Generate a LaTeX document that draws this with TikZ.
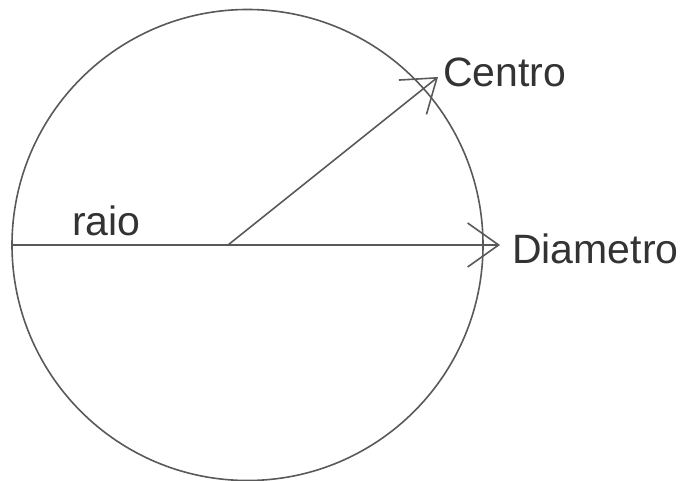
\documentclass[tikz,border=0pt]{standalone}
\usepackage{fontspec}
\setmainfont{Liberation Sans}
\usetikzlibrary{arrows.meta}
\begin{document}
\begin{tikzpicture}[x=1pt,y=-1pt,
  ln/.style={draw=black!65,line width=1.6pt},
  arr/.style={ln,-{Straight Barb[length=31pt,width=44pt,line width=1.6pt]}},
  lbl/.style={anchor=base west,inner sep=0pt,text=black!80,font=\fontsize{41}{48}\selectfont}]
\useasboundingbox (0,0) rectangle (682,481);
\coordinate (c) at (247.5,245);
\draw[ln] (c) circle[radius=235.5];
\coordinate (L) at (12,245);
\coordinate (D) at (500,245);
\coordinate (O) at (228,245);
\coordinate (T) at (438,77);
\draw[arr] (L) -- (D);
\draw[arr] (O) -- (T);
\node[lbl] (centro) at (443,87) {Centro};
\node[lbl] (diam) at (512,263) {Diametro};
\node[lbl] (raio) at (72,235) {raio};
\end{tikzpicture}
\end{document}
